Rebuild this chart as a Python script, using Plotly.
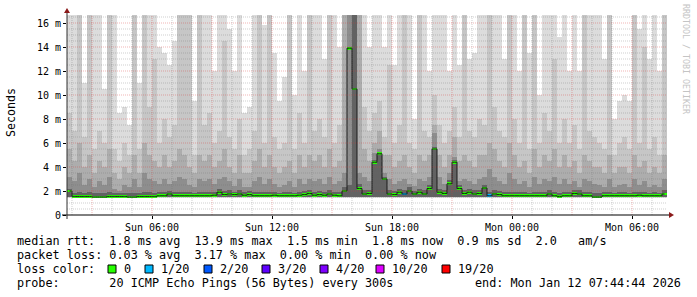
import plotly.graph_objects as go
import pandas as pd

# ---------------- data (values in milliseconds) ----------------
START = "2026-01-11 01:45"
STEP_MIN = 15
BASE_LIGHT = 1.38  # bottom of the outer smoke
BASE_INNER = 1.48  # bottom of the inner smoke

smoke_light = [
    16.7, 16.7, 16.7, 11.0, 16.7, 16.7, 16.7, 10.5, 16.7, 16.7, 8.5, 9.0, 7.5, 16.7, 11.0, 16.7, 16.7, 16.7, 14.0, 13.5,
    12.5, 14.5, 16.7, 16.7, 16.7, 9.5, 16.7, 16.7, 16.7, 12.0, 16.7, 16.7, 15.5, 12.0, 16.7, 8.5, 9.0, 16.7, 16.7, 15.8,
    16.7, 13.5, 9.5, 11.5, 16.7, 10.0, 16.7, 12.0, 16.7, 16.7, 16.7, 13.0, 16.7, 16.7, 14.0, 16.7, 16.7, 16.7, 16.7, 16.7,
    14.0, 16.7, 16.7, 14.0, 16.7, 12.5, 16.7, 16.7, 16.7, 8.0, 16.7, 16.7, 12.0, 16.7, 16.7, 16.7, 12.0, 16.7, 12.5, 16.7,
    13.0, 13.5, 16.7, 16.7, 16.7, 16.7, 16.7, 13.0, 16.7, 16.7, 12.0, 16.7, 13.5, 16.7, 10.0, 16.7, 16.7, 16.7, 14.8, 16.7,
    12.0, 16.7, 12.0, 16.7, 16.7, 16.7, 16.7, 13.0, 16.7, 8.0, 9.5, 10.0, 9.5, 16.7, 15.5, 16.7, 13.0, 16.7, 12.0, 16.7,
]
smoke_mid = [
    8.5, 7.0, 16.7, 6.5, 16.7, 5.5, 7.0, 6.0, 16.7, 5.5, 4.5, 6.0, 5.0, 16.7, 5.5, 16.7, 9.0, 13.0, 6.0, 8.0,
    6.5, 7.5, 16.7, 16.7, 16.7, 5.0, 16.7, 7.5, 8.5, 6.0, 7.0, 14.5, 6.5, 5.5, 8.0, 5.0, 5.5, 7.0, 16.7, 6.0,
    16.7, 6.5, 5.5, 6.0, 16.7, 5.5, 8.5, 6.0, 16.7, 7.0, 8.0, 6.5, 16.7, 6.0, 7.5, 16.7, 16.7, 16.7, 16.7, 9.0,
    7.0, 8.5, 9.5, 6.5, 12.5, 6.0, 7.5, 16.7, 6.0, 5.5, 16.7, 7.0, 6.5, 10.0, 7.5, 6.0, 7.0, 9.0, 6.5, 16.7,
    7.0, 6.5, 8.0, 7.5, 16.7, 9.0, 7.0, 6.5, 16.7, 8.0, 6.0, 16.7, 5.5, 16.7, 6.0, 8.5, 7.0, 13.0, 6.0, 8.0,
    6.0, 7.5, 5.5, 16.7, 7.0, 6.5, 6.0, 5.5, 16.7, 5.0, 6.0, 6.5, 5.5, 16.7, 6.0, 14.0, 5.5, 6.5, 5.0, 16.7,
]
smoke_dark = [
    5.5, 4.5, 6.0, 4.0, 5.0, 3.5, 4.5, 4.0, 5.5, 3.5, 3.0, 4.0, 3.5, 5.0, 3.5, 6.0, 5.0, 4.5, 4.0, 5.0,
    4.0, 4.5, 5.5, 5.0, 4.0, 3.5, 5.0, 4.5, 5.0, 4.0, 4.5, 5.5, 4.0, 3.5, 5.0, 3.5, 3.5, 4.5, 5.5, 4.0,
    5.0, 4.0, 3.5, 4.0, 4.5, 3.5, 5.0, 4.0, 5.0, 4.5, 5.0, 4.0, 5.5, 4.0, 4.5, 16.7, 16.7, 16.7, 16.7, 5.5,
    4.5, 6.0, 7.0, 5.0, 5.0, 4.0, 4.5, 5.0, 4.0, 3.5, 5.0, 4.5, 5.0, 7.5, 5.0, 4.0, 5.0, 6.5, 4.5, 5.0,
    4.5, 4.0, 5.0, 5.0, 6.0, 5.5, 4.5, 4.0, 6.0, 5.0, 4.0, 4.5, 3.5, 5.5, 4.0, 5.0, 4.5, 5.5, 4.0, 5.0,
    4.0, 4.5, 3.5, 5.0, 4.5, 4.0, 4.0, 3.5, 5.0, 3.5, 4.0, 4.0, 3.5, 5.0, 4.0, 4.5, 3.5, 4.0, 3.5, 5.0,
]
smoke_darker = [
    3.2, 2.8, 3.5, 2.5, 3.0, 2.3, 2.8, 2.5, 3.2, 2.2, 2.0, 2.5, 2.3, 3.0, 2.3, 3.5, 3.0, 2.8, 2.6, 3.0,
    2.6, 2.8, 3.2, 3.0, 2.5, 2.3, 3.0, 2.8, 3.0, 2.6, 3.0, 3.2, 2.8, 2.4, 3.0, 2.3, 2.3, 2.8, 3.2, 2.6,
    3.0, 2.6, 2.3, 2.5, 2.8, 2.3, 3.0, 2.6, 3.0, 2.8, 3.0, 2.6, 3.2, 2.6, 2.8, 3.5, 16.7, 16.7, 3.5, 3.2,
    2.8, 5.2, 5.5, 3.5, 3.0, 2.6, 2.8, 3.0, 2.6, 2.4, 3.0, 2.8, 3.2, 6.8, 3.2, 2.6, 3.5, 4.8, 2.8, 3.0,
    2.8, 2.6, 3.0, 3.2, 3.8, 3.2, 2.8, 2.6, 3.5, 3.0, 2.6, 2.8, 2.3, 3.2, 2.6, 3.0, 2.8, 3.2, 2.6, 3.0,
    2.6, 2.8, 2.3, 3.0, 2.8, 2.6, 2.5, 2.3, 3.0, 2.3, 2.5, 2.6, 2.3, 3.0, 2.5, 2.8, 2.3, 2.5, 2.3, 3.0,
]
smoke_core = [
    2.2, 1.85, 1.9, 1.85, 1.9, 1.8, 1.8, 1.8, 1.9, 1.85, 1.8, 1.85, 1.8, 1.85, 1.8, 1.95, 1.9, 1.85, 1.9, 1.95,
    2.0, 1.9, 1.95, 1.9, 1.9, 1.85, 1.95, 1.9, 1.95, 1.9, 2.2, 2.0, 2.05, 1.95, 2.05, 1.9, 2.0, 1.9, 1.95, 1.9,
    1.95, 1.9, 1.85, 1.9, 1.9, 1.85, 1.95, 2.0, 2.1, 1.95, 2.0, 1.9, 2.05, 1.9, 1.9, 2.3, 2.5, 16.7, 2.6, 2.05,
    2.1, 4.6, 5.2, 3.2, 2.05, 2.0, 2.2, 2.05, 2.3, 2.0, 2.2, 2.05, 2.5, 5.7, 2.2, 2.1, 2.9, 4.6, 2.5, 2.1,
    2.2, 2.05, 2.1, 2.5, 1.95, 2.05, 2.0, 1.9, 1.9, 1.9, 1.9, 1.9, 1.85, 1.9, 1.9, 1.9, 2.05, 1.9, 1.85, 1.9,
    1.9, 2.1, 2.05, 1.9, 1.9, 1.8, 1.8, 1.9, 1.9, 1.85, 1.9, 1.9, 1.85, 1.9, 1.95, 1.9, 1.85, 1.9, 1.85, 2.05,
]
median_rtt = [
    2.0, 1.55, 1.55, 1.55, 1.55, 1.5, 1.5, 1.5, 1.55, 1.55, 1.55, 1.55, 1.5, 1.5, 1.55, 1.55, 1.55, 1.55, 1.6, 1.6,
    1.75, 1.6, 1.6, 1.6, 1.6, 1.6, 1.6, 1.6, 1.6, 1.65, 1.9, 1.7, 1.75, 1.7, 1.75, 1.65, 1.7, 1.6, 1.6, 1.6,
    1.6, 1.65, 1.6, 1.6, 1.6, 1.6, 1.65, 1.7, 1.8, 1.65, 1.7, 1.65, 1.75, 1.65, 1.6, 2.0, 13.9, 10.5, 2.2, 1.75,
    1.8, 4.4, 5.1, 3.0, 1.75, 1.7, 1.9, 1.75, 2.0, 1.75, 1.9, 1.75, 2.2, 5.5, 1.9, 1.8, 2.6, 4.4, 2.2, 1.8,
    1.9, 1.75, 1.8, 2.25, 1.6, 1.75, 1.7, 1.6, 1.6, 1.6, 1.6, 1.6, 1.6, 1.6, 1.6, 1.6, 1.75, 1.6, 1.55, 1.6,
    1.6, 1.8, 1.75, 1.6, 1.6, 1.5, 1.5, 1.6, 1.6, 1.6, 1.6, 1.6, 1.6, 1.6, 1.65, 1.6, 1.6, 1.6, 1.6, 1.75,
]
loss_count = [0] * 120
loss_count[67] = 1
loss_count[84] = 1

loss_levels = [0, 1, 2, 3, 4, 10, 19]
loss_labels = ["0", "1/20", "2/20", "3/20", "4/20", "10/20", "19/20"]
loss_colors = ["#26ff00", "#00b8ff", "#0059ff", "#5e00ff", "#7e00ff", "#dd00ff", "#ff0000"]

y_ticks = [0, 2, 4, 6, 8, 10, 12, 14, 16]
y_ticktext = ["0", "2 m", "4 m", "6 m", "8 m", "10 m", "12 m", "14 m", "16 m"]
x_ticks = ["2026-01-11 06:00", "2026-01-11 12:00", "2026-01-11 18:00", "2026-01-12 00:00", "2026-01-12 06:00"]
x_ticktext = ["Sun 06:00", "Sun 12:00", "Sun 18:00", "Mon 00:00", "Mon 06:00"]

legend_rtt = "median rtt:  1.8 ms avg  13.9 ms max  1.5 ms min  1.8 ms now  0.9 ms sd  2.0   am/s"
legend_loss = "packet loss: 0.03 % avg  3.17 % max  0.00 % min  0.00 % now"
legend_probe = "probe:       20 ICMP Echo Pings (56 Bytes) every 300s"
legend_end = "end: Mon Jan 12 07:44:44 2026"
watermark = "RRDTOOL / TOBI OETIKER"

# ---------------- layout geometry (pixels) ----------------
W, H = 697, 297
PL, PR, PT, PB = 67, 667, 15, 215
YMAX = (PB - PT) / 12.0  # 12 px per ms


def fx(px):
    return (px - PL) / (PR - PL)


def fy(py):
    return (PB - py) / (PB - PT)


n = len(median_rtt)
times = pd.date_range(START, periods=n, freq=f"{STEP_MIN}min")
centers = times + pd.Timedelta(minutes=STEP_MIN / 2)
bar_w = STEP_MIN * 60 * 1000
x_start = times[0]
x_end = times[-1] + pd.Timedelta(minutes=STEP_MIN)

fig = go.Figure()

layers = [
    (smoke_light, "#dcdcdc", BASE_LIGHT),
    (smoke_mid, "#c6c6c6", BASE_INNER),
    (smoke_dark, "#adadad", BASE_INNER),
    (smoke_darker, "#8e8e8e", BASE_INNER),
    (smoke_core, "#626262", BASE_INNER),
]
for vals, col, b in layers:
    fig.add_trace(go.Bar(
        x=centers, y=[v - b for v in vals], base=b, width=bar_w,
        marker=dict(color=col, line=dict(width=0)), hoverinfo="skip", showlegend=False,
    ))

# dark connector of the median
fig.add_trace(go.Scatter(
    x=centers, y=median_rtt, mode="lines", line=dict(color="#1a1a1a", width=1, shape="hvh"),
    hoverinfo="skip", showlegend=False,
))
# median coloured by loss
color_of = dict(zip(loss_levels, loss_colors))
fig.add_trace(go.Bar(
    x=centers, y=[0.22] * n, base=[m - 0.11 for m in median_rtt], width=bar_w,
    marker=dict(color=[color_of[c] for c in loss_count], line=dict(width=0)),
    hoverinfo="skip", showlegend=False,
))

shapes = []
dash = "1px,1px"
minor_col = "rgba(110,110,110,0.33)"
major_col = "rgba(215,60,60,0.38)"
# horizontal grid
k = 0.5
while k < YMAX:
    is_major = abs(k / 2 - round(k / 2)) < 1e-9
    shapes.append(dict(type="line", xref="paper", yref="y", x0=0, x1=1, y0=k, y1=k, layer="above",
                       line=dict(color=major_col if is_major else minor_col, width=1, dash=dash)))
    k += 0.5
# vertical grid
for t in pd.date_range("2026-01-11 02:00", "2026-01-12 07:00", freq="1h"):
    is_major = t.hour % 3 == 0
    shapes.append(dict(type="line", xref="x", yref="paper", x0=t, x1=t, y0=0, y1=1, layer="above",
                       line=dict(color=major_col if is_major else minor_col, width=1, dash=dash)))
# axes
shapes.append(dict(type="line", xref="paper", yref="paper", x0=fx(62), x1=fx(670), y0=0, y1=0,
                   layer="above", line=dict(color="#000000", width=1)))
shapes.append(dict(type="line", xref="paper", yref="paper", x0=0, x1=0, y0=fy(219), y1=fy(11),
                   layer="above", line=dict(color="#303030", width=1)))
# arrows
shapes.append(dict(type="path", xref="paper", yref="paper", layer="above",
                   path=f"M {fx(64)} {fy(13)} L {fx(70)} {fy(13)} L {fx(67)} {fy(8)} Z",
                   fillcolor="#8b1a1a", line=dict(width=0)))
shapes.append(dict(type="path", xref="paper", yref="paper", layer="above",
                   path=f"M {fx(669)} {fy(212)} L {fx(669)} {fy(218)} L {fx(674)} {fy(215)} Z",
                   fillcolor="#8b1a1a", line=dict(width=0)))

MONO = "DejaVu Sans Mono"
ann = []


def text(px, py, s, size=11.8, color="#000000", anchor="left", angle=0):
    ann.append(dict(xref="paper", yref="paper", x=fx(px), y=fy(py), text=s.replace(" ", "\u00a0"),
                    showarrow=False, xanchor=anchor, yanchor="middle", textangle=angle, borderpad=0,
                    font=dict(family=MONO, size=size, color=color)))


text(16, 241, legend_rtt)
text(16, 255, legend_loss)
text(16, 269, "loss color:")
text(16, 283, legend_probe)
text(682, 283, legend_end, anchor="right")

box_x = [108, 145, 204, 262, 320, 376, 442]
for bx, lab, col in zip(box_x, loss_labels, loss_colors):
    shapes.append(dict(type="rect", xref="paper", yref="paper", x0=fx(bx), x1=fx(bx + 8),
                       y0=fy(273), y1=fy(265), fillcolor=col, line=dict(color="#000000", width=1)))
    text(bx + 15, 269, lab)

text(11, 113, "Seconds", size=11.6, anchor="center", angle=-90)
text(686, 59, watermark, size=8.3, color="#c4c4c4", anchor="center", angle=90)

fig.update_layout(
    width=W, height=H, margin=dict(l=PL, r=W - PR, t=PT, b=H - PB),
    paper_bgcolor="#ffffff", plot_bgcolor="#ffffff",
    barmode="overlay", bargap=0, showlegend=False,
    shapes=shapes, annotations=ann,
    xaxis=dict(type="date", range=[x_start, x_end], showgrid=False, zeroline=False, showline=False,
               tickvals=x_ticks, ticktext=x_ticktext, ticks="outside", ticklen=3, tickcolor="#000000",
               tickfont=dict(family=MONO, size=10, color="#000000"), fixedrange=True),
    yaxis=dict(range=[0, YMAX], showgrid=False, zeroline=False, showline=False,
               tickvals=y_ticks, ticktext=y_ticktext, ticks="outside", ticklen=3, tickcolor="#000000",
               tickfont=dict(family=MONO, size=10, color="#000000"), fixedrange=True),
)

fig.write_html("out.html")
